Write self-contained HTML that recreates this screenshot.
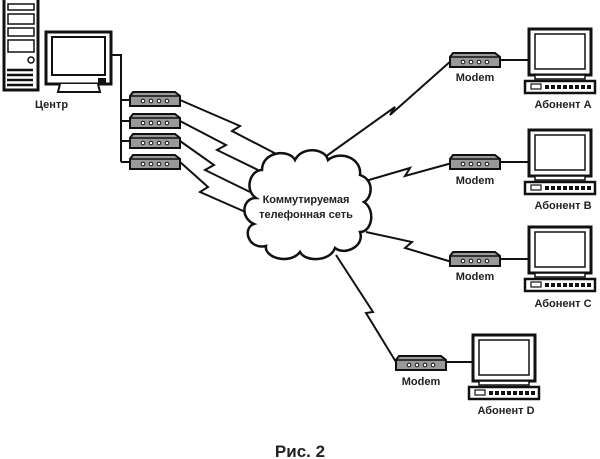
<!DOCTYPE html>
<html><head><meta charset="utf-8"><style>
html,body{margin:0;padding:0;background:#fff;}
svg{display:block;}
text{font-family:"Liberation Sans",sans-serif;font-weight:bold;fill:#222;}
</style></head><body>
<svg width="600" height="459" viewBox="0 0 600 459" xmlns="http://www.w3.org/2000/svg">
<defs>
<g id="modem">
  <path d="M3,0 L45,0 L50,4 L50,14 L0,14 L0,4 Z" fill="#999" stroke="#111" stroke-width="2"/>
  <line x1="0" y1="4" x2="50" y2="4" stroke="#111" stroke-width="1.5"/>
  <circle cx="13" cy="9" r="1.8" fill="#fff" stroke="#111"/>
  <circle cx="21" cy="9" r="1.8" fill="#fff" stroke="#111"/>
  <circle cx="29" cy="9" r="1.8" fill="#fff" stroke="#111"/>
  <circle cx="37" cy="9" r="1.8" fill="#fff" stroke="#111"/>
</g>
<g id="pc">
  <rect x="4" y="0" width="62" height="46" fill="#fff" stroke="#111" stroke-width="3"/>
  <rect x="10" y="5" width="50" height="35" fill="#fff" stroke="#111" stroke-width="1.5"/>
  <rect x="10" y="46" width="50" height="4" fill="#fff" stroke="#111" stroke-width="1.5"/>
  <rect x="0" y="52" width="70" height="12" fill="#fff" stroke="#111" stroke-width="2.5"/>
  <rect x="6" y="55" width="10" height="5" fill="#fff" stroke="#111" stroke-width="1.2"/>
  <path d="M20,58 h46" stroke="#111" stroke-width="4" stroke-dasharray="4,2"/>
</g>
</defs>

<rect x="4" y="-2" width="34" height="92" fill="#fff" stroke="#111" stroke-width="3"/>
<rect x="8" y="4" width="26" height="6" fill="none" stroke="#111" stroke-width="1.5"/>
<rect x="8" y="14" width="26" height="10" fill="none" stroke="#111" stroke-width="1.5"/>
<rect x="8" y="28" width="26" height="8" fill="none" stroke="#111" stroke-width="1.5"/>
<rect x="8" y="40" width="26" height="12" fill="none" stroke="#111" stroke-width="1.5"/>
<circle cx="31" cy="60" r="3" fill="none" stroke="#111" stroke-width="1.5"/>
<path d="M7,70h26M7,75h26M7,80h26M7,85h26" stroke="#111" stroke-width="2.5"/>
<rect x="46" y="32" width="65" height="52" fill="#fff" stroke="#111" stroke-width="3"/>
<rect x="52" y="37" width="53" height="38" fill="#fff" stroke="#111" stroke-width="2"/>
<path d="M60,84 L58,92 L100,92 L98,84" fill="#fff" stroke="#111" stroke-width="2"/>
<rect x="98" y="78" width="8" height="6" fill="#111"/>
<text x="35" y="108" font-size="11">Центр</text>

<path d="M111,55 H121 V162 M121,100 H130 M121,121 H130 M121,141 H130 M121,162 H130" fill="none" stroke="#111" stroke-width="2"/>
<use href="#modem" x="130" y="92"/>
<use href="#modem" x="130" y="114"/>
<use href="#modem" x="130" y="134"/>
<use href="#modem" x="130" y="155"/>

<g fill="none" stroke="#111" stroke-width="2">
<path d="M180,100 L240,126 L232,131 L284,158"/>
<path d="M180,121 L226,145 L217,150 L258,170"/>
<path d="M180,141 L214,165 L205,170 L250,192"/>
<path d="M180,162 L208,187 L200,192 L250,214"/>
<path d="M325,157 L395,107 L390,115 L452,60"/>
<path d="M362,182 L410,168 L405,176 L452,163"/>
<path d="M366,232 L412,242 L405,248 L452,262"/>
<path d="M336,255 L373,312 L366,313 L396,362"/>
<path d="M497,60 H530 M497,162 H530 M497,259 H530 M445,362 H474"/>
</g>

<path d="M262,170 C262,152 288,148 295,160 C302,146 325,148 328,160 C340,150 362,158 360,175 C375,180 372,198 364,202 C376,210 372,232 360,232 C365,246 345,256 335,248 C330,262 305,262 300,252 C290,265 264,258 266,246 C248,250 242,228 254,224 C240,218 242,198 256,198 C244,190 250,170 262,170 Z" fill="#fff" stroke="#111" stroke-width="2.5"/>
<text x="306" y="203" font-size="11" text-anchor="middle">Коммутируемая</text>
<text x="306" y="218" font-size="11" text-anchor="middle">телефонная сеть</text>

<use href="#modem" x="450" y="53"/>
<text x="475" y="81" font-size="11" text-anchor="middle">Modem</text>
<use href="#modem" x="450" y="155"/>
<text x="475" y="184" font-size="11" text-anchor="middle">Modem</text>
<use href="#modem" x="450" y="252"/>
<text x="475" y="280" font-size="11" text-anchor="middle">Modem</text>
<use href="#modem" x="396" y="356"/>
<text x="421" y="385" font-size="11" text-anchor="middle">Modem</text>

<use href="#pc" x="525" y="29"/>
<text x="563" y="108" font-size="11" text-anchor="middle">Абонент A</text>
<use href="#pc" x="525" y="130"/>
<text x="563" y="209" font-size="11" text-anchor="middle">Абонент B</text>
<use href="#pc" x="525" y="227"/>
<text x="563" y="307" font-size="11" text-anchor="middle">Абонент C</text>
<use href="#pc" x="469" y="335"/>
<text x="506" y="414" font-size="11" text-anchor="middle">Абонент D</text>

<text x="300" y="457" font-size="17" text-anchor="middle">Рис. 2</text>
</svg>
</body></html>
